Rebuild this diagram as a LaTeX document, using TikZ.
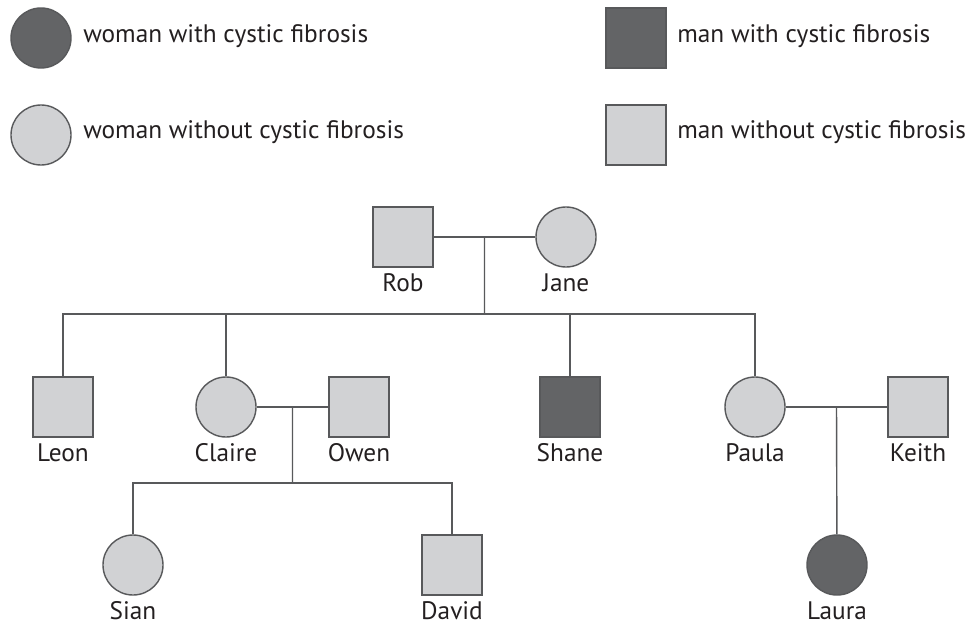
\documentclass[tikz,border=0pt]{standalone}
\usepackage{fontspec}
\setmainfont{PT Sans}
\usetikzlibrary{calc,positioning}
\definecolor{cfdark}{HTML}{636466}
\definecolor{cflight}{HTML}{D1D2D4}
\definecolor{cfline}{HTML}{58595B}
\definecolor{cftext}{HTML}{231F20}
\tikzset{
  person/.style={draw=cfline,line width=1pt,inner sep=0pt},
  man/.style={person,rectangle,minimum size=1.5cm,fill=cflight},
  woman/.style={person,circle,minimum size=1.5cm,fill=cflight},
  sick/.style={fill=cfdark},
  every label/.style={inner xsep=2pt,inner ysep=0pt,yshift=-4pt,text height=13pt,text depth=0pt,
    font=\fontsize{18}{21}\selectfont\color{cftext}},
  key/.style={anchor=west,inner sep=0pt,font=\fontsize{18}{21}\selectfont\color{cftext}}
}
\begin{document}
\begin{tikzpicture}[x=0.025cm,y=-0.025cm]
      \useasboundingbox (0,0) rectangle (971,623);
      % key
      \node[woman,sick](kws) at (41,38) {};
      \node[woman](kw) at (41,135) {};
      \node[man,sick](kms) at (636,38) {};
      \node[man](km) at (636,135) {};
      \node[key](tws) at (83,36) {woman with cystic fibrosis};
      \node[key](tw) at (83,132) {woman without cystic fibrosis};
      \node[key](tms) at (677,36) {man with cystic fibrosis};
      \node[key](tm) at (677,132) {man without cystic fibrosis};
      % family
      \node[man,label=below:Rob](rob) at (403,237) {};
      \node[woman,label=below:Jane](jane) at (566,237) {};
      \node[man,label=below:Leon](leon) at (63,407) {};
      \node[woman,label=below:Claire](claire) at (226,407) {};
      \node[man,label=below:Owen](owen) at (359,407) {};
      \node[man,sick,label=below:Shane](shane) at (570,407) {};
      \node[woman,label=below:Paula](paula) at (755,407) {};
      \node[man,label=below:Keith](keith) at (918,407) {};
      \node[woman,label=below:Sian](sian) at (133,565) {};
      \node[man,label=below:David](david) at (452,565) {};
      \node[woman,sick,label=below:Laura](laura) at (837,565) {};
      \coordinate (rj) at ($(rob.east)!.5!(jane.west)$);
      \coordinate (co) at ($(claire.east)!.5!(owen.west)$);
      \coordinate (pk) at ($(paula.east)!.5!(keith.west)$);
      \coordinate (sib) at (rj |- 0,314);
      \coordinate (sib2) at (co |- 0,483);
      \begin{scope}[draw=cfline,line width=1pt]
      \draw (rob)--(jane) (claire)--(owen) (paula)--(keith);
      \draw (rj)--(sib) (co)--(sib2) (pk)--(laura);
      \draw (leon.north) |- (sib) -| (paula.north);
      \draw (claire.north)--(claire.north |- sib) (shane.north)--(shane.north |- sib);
      \draw (sian.north) |- (sib2) -| (david.north);
      \end{scope}
    \end{tikzpicture}
\end{document}
